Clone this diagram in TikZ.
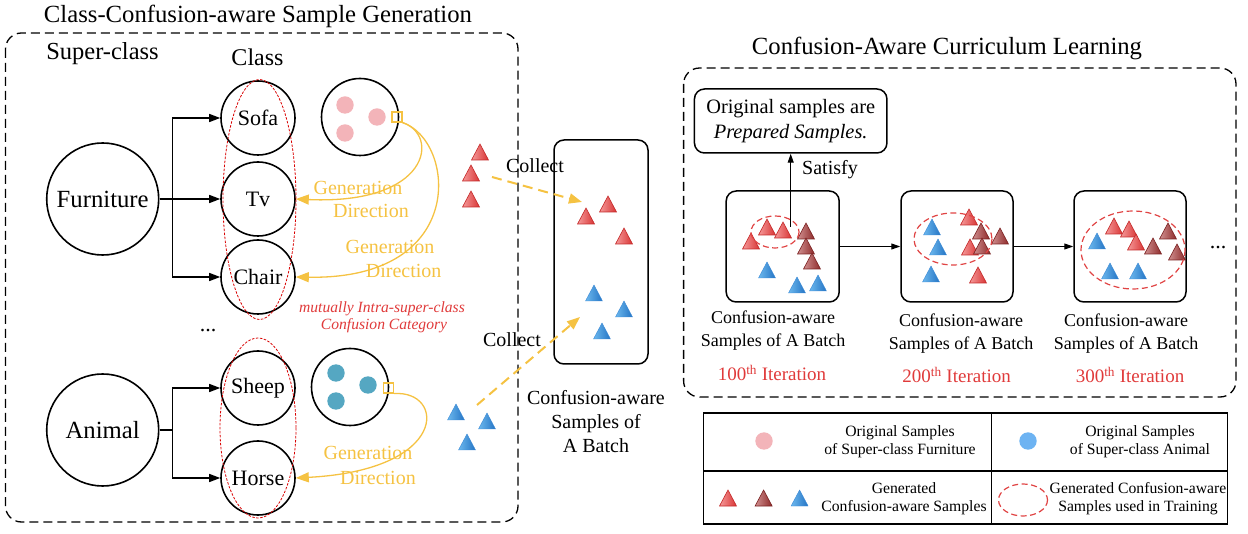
\documentclass[tikz,border=0pt]{standalone}
\usepackage{fontspec}
\setmainfont{Liberation Serif}
\usetikzlibrary{arrows.meta,shapes.geometric}
\definecolor{gold}{HTML}{F5C242}
\definecolor{rtext}{HTML}{E03A3A}
\definecolor{pinkd}{HTML}{F3B4B9}
\definecolor{teald}{HTML}{55A7C2}
\definecolor{lblue}{HTML}{6DB3F2}
\definecolor{rlight}{HTML}{F59A9A}
\definecolor{rmid}{HTML}{D83434}
\definecolor{rline}{HTML}{C42828}
\definecolor{dlight}{HTML}{D09090}
\definecolor{ddark}{HTML}{8E2A2A}
\definecolor{dline}{HTML}{7A2020}
\definecolor{blight}{HTML}{6CB8EE}
\definecolor{bdark}{HTML}{2474C4}
\definecolor{bline}{HTML}{3C8AD6}
\definecolor{ell}{HTML}{E04444}
\tikzset{
  pics/rt/.style={code={\shadedraw[draw=rline, line width=0.6pt, left color=rlight, right color=rmid] (-8.5,7) -- (0,-9) -- (8.5,7) -- cycle;}},
  pics/dt/.style={code={\shadedraw[draw=dline, line width=0.6pt, left color=dlight, right color=ddark] (-8.5,7) -- (0,-9) -- (8.5,7) -- cycle;}},
  pics/bt/.style={code={\shadedraw[draw=bline, line width=0.4pt, left color=blight, right color=bdark] (-8.5,7) -- (0,-9) -- (8.5,7) -- cycle;}},
  cls/.style={circle, draw, line width=1.6pt, minimum size=74pt, inner sep=0pt, font=\fontsize{22}{26}\selectfont},
  supc/.style={circle, draw, line width=1.6pt, minimum size=112pt, inner sep=0pt, font=\fontsize{24.7}{29}\selectfont},
  smp/.style={circle, draw, line width=1.6pt, minimum size=77pt, inner sep=0pt},
  arr/.style={-{Triangle[length=11pt,width=8pt]}, line width=1.4pt},
  thinarr/.style={-{Triangle[length=9pt,width=6pt]}, line width=1pt},
  gen/.style={gold, line width=1.3pt, -{Triangle[length=13pt,width=10pt]}},
  gtxt/.style={text=gold, font=\fontsize{20}{24}\selectfont, inner sep=0pt},
  sq/.style={draw=gold, line width=1.2pt, minimum size=10pt, inner sep=0pt},
  dbox/.style={dash pattern=on 9pt off 5pt, line width=1.3pt, rounded corners=16pt},
  conf/.style={draw=red!85!black, dash pattern=on 2.5pt off 1.5pt, line width=0.8pt},
  conf2/.style={draw=ell, dash pattern=on 6pt off 3.5pt, line width=1.2pt},
  trbox/.style={draw, line width=1.5pt, rounded corners=10pt, inner sep=0pt},
  collect/.style={gold, line width=2pt, dash pattern=on 10pt off 6pt, -{Triangle[length=13pt,width=10pt]}},
  ttl/.style={font=\fontsize{24.7}{29}\selectfont, inner sep=0pt},
  lbl/.style={font=\fontsize{20}{24}\selectfont, inner sep=0pt, align=center},
  blbl/.style={font=\fontsize{18}{23}\selectfont, inner sep=0pt, align=center},
  itl/.style={text=rtext, font=\fontsize{19}{22}\selectfont, inner sep=0pt},
  leg/.style={font=\fontsize{15.7}{18}\selectfont, inner sep=0pt, align=center},
}
\begin{document}
\begin{tikzpicture}[x=1pt,y=-1pt]
\useasboundingbox (0,0) rectangle (1248,534);

% ---------------- left part ----------------
\node[ttl] (t1) at (258,16) {Class-Confusion-aware Sample Generation};
\draw[dbox] (5.5,33) rectangle (518,522);
\node[ttl, font=\fontsize{24.5}{29}\selectfont] (lsc) at (102.5,54) {Super-class};
\node[ttl, font=\fontsize{24}{28}\selectfont] (lc) at (257.5,57) {Class};

\node[supc] (furn) at (102.7,199) {Furniture};
\node[supc] (anim) at (102.7,430) {Animal};
\node[cls] (sofa) at (258,118) {Sofa};
\node[cls] (tv) at (258,199) {Tv};
\node[cls] (chair) at (258,277) {Chair};
\node[cls] (sheep) at (258,388) {Sheep};
\node[cls] (horse) at (258,478) {Horse};
\node[font=\fontsize{22}{26}\selectfont] (dots1) at (208,331) {...};

\draw[arr] (furn.east) -- ++(12.7,0) |- (sofa.west);
\draw[arr] (furn.east) -- (tv.west);
\draw[arr] (furn.east) -- ++(12.7,0) |- (chair.west);
\draw[arr] (anim.east) -- ++(12.7,0) |- (sheep.west);
\draw[arr] (anim.east) -- ++(12.7,0) |- (horse.west);

\draw[conf] (259.5,199.5) ellipse [x radius=36.5, y radius=120];
\draw[conf] (258,428) ellipse [x radius=38, y radius=90];

% sample circles
\node[smp] (pinkc) at (360,117) {};
\fill[pinkd] (345,105) circle (8.7);
\fill[pinkd] (377,117) circle (8.7);
\fill[pinkd] (345,133) circle (8.7);
\node[sq] (psq) at (397,117) {};
\node[smp] (bluec) at (350,387) {};
\fill[teald] (336,373) circle (8.7);
\fill[teald] (368,385) circle (8.7);
\fill[teald] (336,401) circle (8.7);
\node[sq] (bsq) at (388.6,388) {};

\draw[gen] (psq.south east) .. controls (440,135) and (430,205) .. (tv.east);
\draw[gen] (psq.south east) .. controls (455,140) and (470,280) .. (chair.east);
\draw[gen] (bsq.south east) .. controls (445,390) and (450,470) .. (horse.east);

\node[gtxt] (g1a) at (358,188) {Generation};
\node[gtxt] (g1b) at (371,211) {Direction};
\node[gtxt] (g2a) at (390,247) {Generation};
\node[gtxt] (g2b) at (403.6,271) {Direction};
\node[gtxt] (g3a) at (368,453) {Generation};
\node[gtxt] (g3b) at (378,478) {Direction};

\node[itl, font=\itshape\fontsize{15.6}{18}\selectfont] (mu1) at (382,309) {mutually Intra-super-class};
\node[itl, font=\itshape\fontsize{15.6}{18}\selectfont] (mu2) at (384,326) {Confusion Category};

% generated triangles (outside)
\pic at (480,153) {rt};
\pic at (471,174) {rt};
\pic at (471,200) {rt};
\pic at (456,413) {bt};
\pic at (487,422) {bt};
\pic at (467,443) {bt};

% batch box
\node[trbox, minimum width=94pt, minimum height=224pt] (batch) at (601,252) {};
\pic at (586,217) {rt};
\pic at (608,205) {rt};
\pic at (624,237) {rt};
\pic at (594,294) {bt};
\pic at (624,310) {bt};
\pic at (602,332) {bt};

\coordinate (c1s) at (492,177);
\coordinate (c1e) at (582,202);
\coordinate (c2s) at (477,405);
\coordinate (c2e) at (580,317);
\draw[collect] (c1s) -- (c1e);
\draw[collect] (c2s) -- (c2e);
\node[lbl] (col1) at (535,166) {Collect};
\node[lbl] (col2) at (512,340) {Collect};
\node[lbl] (batchl) at (596,422) {Confusion-aware\\Samples of\\A Batch};

% ---------------- right part ----------------
\node[ttl] (t2) at (947,48) {Confusion-Aware Curriculum Learning};
\draw[dbox] (683.6,68) rectangle (1236,397);

\node[trbox, minimum width=192.5pt, minimum height=64pt, font=\fontsize{20.4}{24.5}\selectfont, align=center] (orig) at (790.7,121) {Original samples are\\\textit{Prepared Samples.}};

\node[trbox, minimum width=113pt, minimum height=111pt] (b1) at (782.7,246.5) {};
\node[trbox, minimum width=112pt, minimum height=111pt] (b2) at (957,246.5) {};
\node[trbox, minimum width=112pt, minimum height=111pt] (b3) at (1130,246.5) {};
\draw[thinarr] (b1.east) -- (b2.west);
\draw[thinarr] (b2.east) -- (b3.west);
\node[font=\fontsize{22}{26}\selectfont] (dots2) at (1218,248) {...};

% box 1
\pic at (767,228) {rt};
\pic at (783,231) {rt};
\pic at (751,242) {rt};
\pic at (806,232) {dt};
\pic at (806,247) {dt};
\pic at (812,262) {dt};
\pic at (767,271) {bt};
\pic at (797,286) {bt};
\pic at (818,284) {bt};
\draw[conf2] (775,232) ellipse [x radius=24, y radius=16];
\coordinate (s1) at (790.7,227);
\draw[thinarr] (s1) -- (orig.south);
\node[font=\fontsize{20}{24}\selectfont, inner sep=0pt] (sat) at (830,170) {Satisfy};

% box 2
\pic at (969,218) {rt};
\pic at (970,248) {rt};
\pic at (978,276) {rt};
\pic at (981,232) {dt};
\pic at (982,247) {dt};
\pic at (1000,237) {dt};
\pic at (932,228) {bt};
\pic at (938,248) {bt};
\pic at (931,275) {bt};
\draw[conf2] (953,239) ellipse [x radius=39, y radius=26];

% box 3
\pic at (1114,227) {rt};
\pic at (1129,230) {rt};
\pic at (1136,243) {rt};
\pic at (1153,247) {dt};
\pic at (1168,232) {dt};
\pic at (1177,253) {dt};
\pic at (1097,242) {bt};
\pic at (1110,272) {bt};
\pic at (1138,272) {bt};
\draw[conf2] (1133,250) ellipse [x radius=52, y radius=39];

\node[blbl] (l1) at (773,331) {Confusion-aware\\Samples of A Batch};
\node[blbl] (l2) at (961,334) {Confusion-aware\\Samples of A Batch};
\node[blbl] (l3) at (1126,334) {Confusion-aware\\Samples of A Batch};
\node[itl] (i1) at (772,373) {100\textsuperscript{th} Iteration};
\node[itl] (i2) at (956.6,375) {200\textsuperscript{th} Iteration};
\node[itl] (i3) at (1130,375) {300\textsuperscript{th} Iteration};

% ---------------- legend ----------------
\draw[line width=1.3pt] (703.5,413) rectangle (1227.8,524);
\draw[line width=1.3pt] (703.5,471) -- (1227.8,471);
\draw[line width=1.3pt] (991.8,413) -- (991.8,524);
\fill[pinkd] (764,441) circle (8.7);
\node[leg] (lg1) at (900,442) {Original Samples\\of Super-class Furniture};
\fill[lblue] (1028,441) circle (8.7);
\node[leg] (lg2) at (1140,442) {Original Samples\\of Super-class Animal};
\pic at (728,499) {rt};
\pic at (763.6,499) {dt};
\pic at (799.6,499) {bt};
\node[leg] (lg3) at (904,499) {Generated\\Confusion-aware Samples};
\draw[conf2] (1023,500) ellipse [x radius=24.5, y radius=16];
\node[leg] (lg4) at (1138,499) {Generated Confusion-aware\\Samples used in Training};
\end{tikzpicture}
\end{document}
